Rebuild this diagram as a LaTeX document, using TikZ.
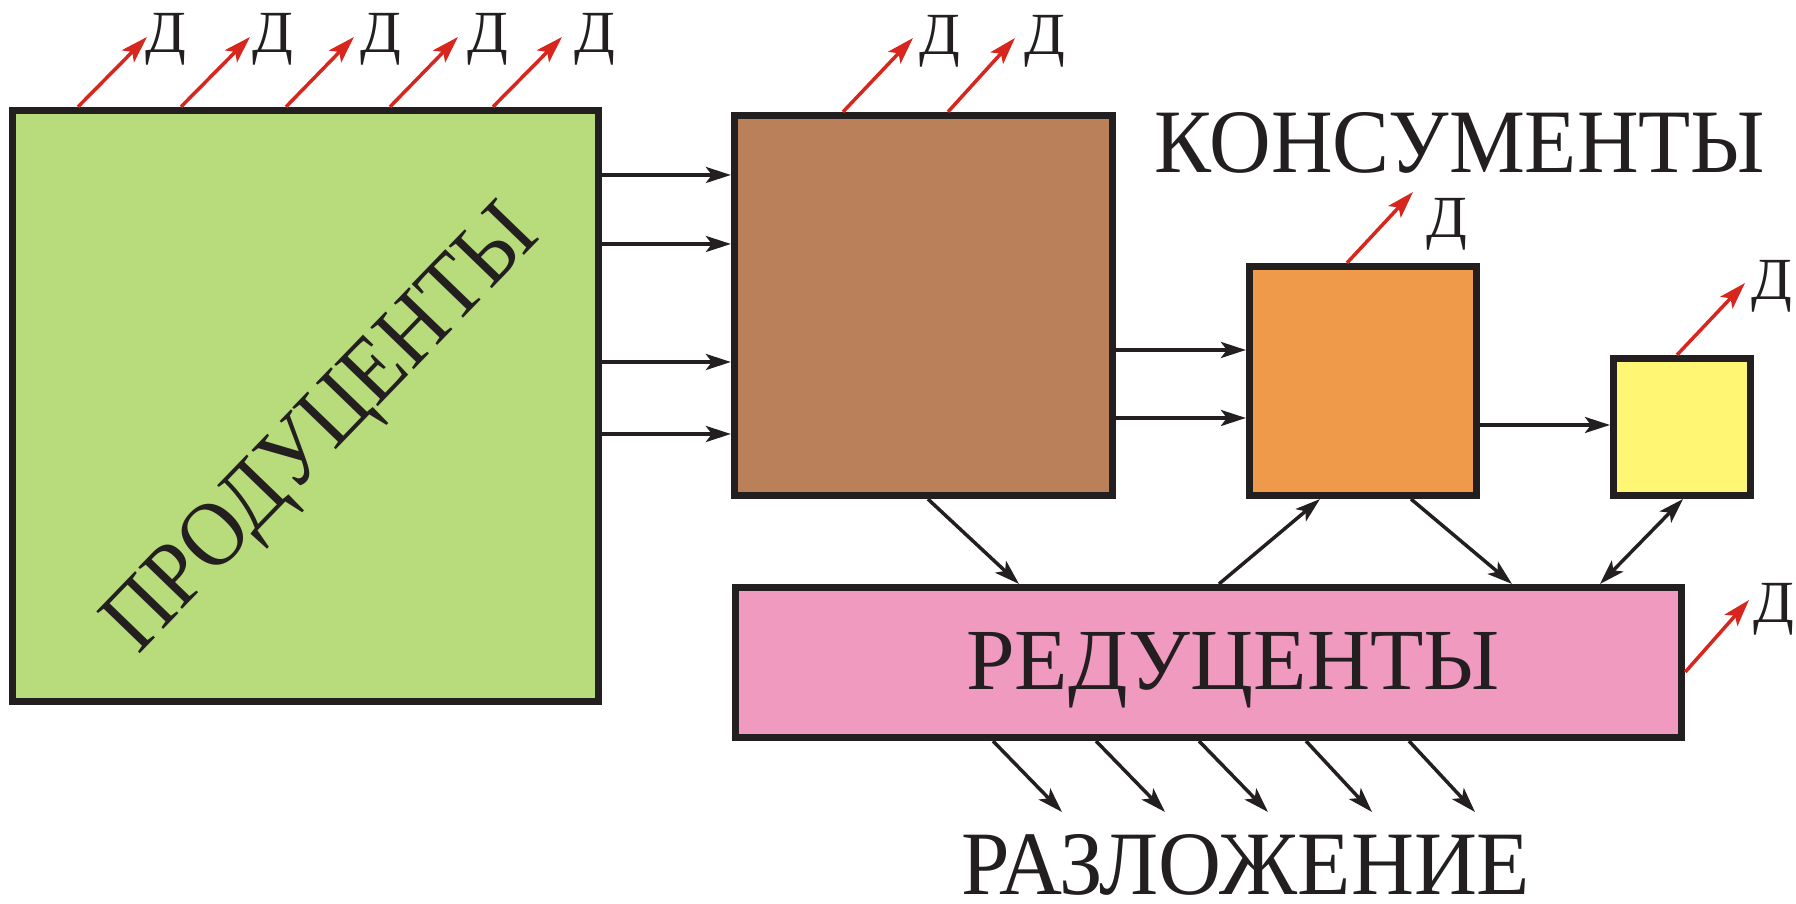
\documentclass[tikz,border=0pt]{standalone}
\usepackage{fontspec}
\setmainfont{Liberation Serif}
\usetikzlibrary{arrows.meta}
\definecolor{cgreen}{RGB}{184,220,124}
\definecolor{cbrown}{RGB}{185,128,89}
\definecolor{corange}{RGB}{238,154,74}
\definecolor{cyellow}{RGB}{255,247,116}
\definecolor{cpink}{RGB}{240,154,191}
\definecolor{cred}{RGB}{215,38,30}
\definecolor{cblack}{RGB}{35,31,32}
\begin{document}
\begin{tikzpicture}[x=0.01cm,y=-0.01cm,
  box/.style={draw=cblack, line width=0.07cm, inner sep=0pt, outer sep=0.035cm},
  flow/.style={draw=cblack, line width=0.035cm, -{Stealth[length=0.25cm,width=0.16cm,inset=0.06cm]}},
  dflow/.style={draw=cblack, line width=0.035cm, {Stealth[length=0.25cm,width=0.16cm,inset=0.06cm]}-{Stealth[length=0.25cm,width=0.16cm,inset=0.06cm]}},
  loss/.style={draw=cred, line width=0.035cm, -{Stealth[length=0.27cm,width=0.17cm,inset=0.06cm]}},
  dlab/.style={font=\fontsize{17pt}{17pt}\selectfont, inner sep=0pt, anchor=base, text=cblack},
  biglab/.style={inner sep=0pt, text=cblack}
]
\useasboundingbox (0,0) rectangle (1796,904);

% boxes
\node[box, fill=cgreen, minimum width=5.86cm, minimum height=5.91cm] (prod) at (305.5,406) {};
\node[box, fill=cbrown, minimum width=3.78cm, minimum height=3.80cm] (k1) at (923.5,305.5) {};
\node[box, fill=corange, minimum width=2.27cm, minimum height=2.29cm] (k2) at (1363,381) {};
\node[box, fill=cyellow, minimum width=1.37cm, minimum height=1.37cm] (k3) at (1682,427) {};
\node[box, fill=cpink, minimum width=9.46cm, minimum height=1.50cm] (red) at (1208.5,662.5) {};

% labels
\node[biglab, rotate=46] (lprod) at (325,432) {\resizebox{5.8cm}{0.61cm}{ПРОДУЦЕНТЫ}};
\node[biglab, anchor=base] (lkons) at (1460,173) {\resizebox{6.1cm}{0.6cm}{КОНСУМЕНТЫ}};
\node[biglab, anchor=base] (lred) at (1233,690) {\resizebox{5.33cm}{0.57cm}{РЕДУЦЕНТЫ}};
\node[biglab, anchor=base] (lraz) at (1246,895) {\resizebox{5.68cm}{0.6cm}{РАЗЛОЖЕНИЕ}};

% flows producers -> consumers I
\draw[flow] (prod.east |- 0,175) -- (k1.west |- 0,175);
\draw[flow] (prod.east |- 0,244) -- (k1.west |- 0,244);
\draw[flow] (prod.east |- 0,362) -- (k1.west |- 0,362);
\draw[flow] (prod.east |- 0,434) -- (k1.west |- 0,434);
% consumers I -> II
\draw[flow] (k1.east |- 0,350) -- (k2.west |- 0,350);
\draw[flow] (k1.east |- 0,418) -- (k2.west |- 0,418);
% II -> III
\draw[flow] (k2.east |- 0,425) -- (k3.west |- 0,425);
% to / from reducers
\draw[flow] (k1.south -| 928,0) -- (red.north -| 1019,0);
\draw[flow] (red.north -| 1219,0) -- (k2.south -| 1320,0);
\draw[flow] (k2.south -| 1411,0) -- (red.north -| 1512,0);
\draw[dflow] (k3.south -| 1683,0) -- (red.north -| 1600,0);

% decomposition
\coordinate (r1) at (1062,812);
\coordinate (r2) at (1165,812);
\coordinate (r3) at (1268,812);
\coordinate (r4) at (1372,812);
\coordinate (r5) at (1475,812);
\draw[flow] (red.south -| 993,0) -- (r1);
\draw[flow] (red.south -| 1096,0) -- (r2);
\draw[flow] (red.south -| 1199,0) -- (r3);
\draw[flow] (red.south -| 1306,0) -- (r4);
\draw[flow] (red.south -| 1409,0) -- (r5);

% losses (red arrows)
\coordinate (g1) at (147,37);
\coordinate (g2) at (250,37);
\coordinate (g3) at (354,37);
\coordinate (g4) at (458,37);
\coordinate (g5) at (562,37);
\draw[loss] (prod.north -| 78,0) -- (g1);
\draw[loss] (prod.north -| 181,0) -- (g2);
\draw[loss] (prod.north -| 286,0) -- (g3);
\draw[loss] (prod.north -| 390,0) -- (g4);
\draw[loss] (prod.north -| 493,0) -- (g5);
\coordinate (b1) at (913,38);
\coordinate (b2) at (1015,38);
\draw[loss] (k1.north -| 843,0) -- (b1);
\draw[loss] (k1.north -| 948,0) -- (b2);
\coordinate (o1) at (1413,192);
\draw[loss] (k2.north -| 1347,0) -- (o1);
\coordinate (y1) at (1745,283);
\draw[loss] (k3.north -| 1677,0) -- (y1);
\coordinate (p1) at (1749,600);
\draw[loss] (red.east |- 0,672) -- (p1);

% Д labels
\node[dlab] (d1) at (166,53) {Д};
\node[dlab] (d2) at (273,53) {Д};
\node[dlab] (d3) at (381,53) {Д};
\node[dlab] (d4) at (488,53) {Д};
\node[dlab] (d5) at (595,53) {Д};
\node[dlab] (d6) at (940,55) {Д};
\node[dlab] (d7) at (1045,55) {Д};
\node[dlab] (d8) at (1447,238) {Д};
\node[dlab] (d9) at (1772,300) {Д};
\node[dlab] (d10) at (1774,623) {Д};
\end{tikzpicture}
\end{document}
